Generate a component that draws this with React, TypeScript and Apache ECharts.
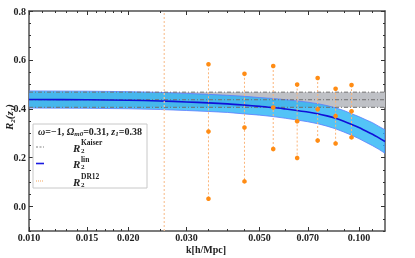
import React, { useEffect, useRef } from 'react';
import * as echarts from 'echarts';

// ---- data ----
const kGrid = [0.010, 0.015, 0.020, 0.025, 0.030, 0.035, 0.040, 0.045, 0.050, 0.055, 0.060, 0.065, 0.070, 0.075, 0.080, 0.085, 0.090, 0.095, 0.100, 0.105, 0.110, 0.115, 0.120];
const linCenter = [0.438, 0.437, 0.435, 0.432, 0.428, 0.424, 0.420, 0.415, 0.410, 0.405, 0.399, 0.393, 0.387, 0.380, 0.371, 0.361, 0.349, 0.336, 0.323, 0.309, 0.296, 0.281, 0.266];
const linUpper = [0.473, 0.472, 0.470, 0.467, 0.463, 0.459, 0.455, 0.451, 0.446, 0.442, 0.437, 0.432, 0.427, 0.421, 0.413, 0.404, 0.393, 0.380, 0.368, 0.355, 0.343, 0.328, 0.314];
const linLower = [0.403, 0.402, 0.400, 0.397, 0.393, 0.389, 0.385, 0.379, 0.374, 0.368, 0.361, 0.354, 0.347, 0.339, 0.329, 0.318, 0.305, 0.292, 0.278, 0.263, 0.249, 0.234, 0.218];

const kaiserK = [0.010, 0.120];
const kaiserCenter = [0.437, 0.437];
const kaiserUpper = [0.468, 0.468];
const kaiserLower = [0.406, 0.406];

const dr12K = [0.035, 0.045, 0.055, 0.065, 0.075, 0.085, 0.095];
const dr12R = [0.307, 0.323, 0.405, 0.349, 0.398, 0.370, 0.390];
const dr12Err = [0.275, 0.220, 0.170, 0.150, 0.128, 0.112, 0.107];

const kVertical = 0.0257;

const xLabelTicks = [0.010, 0.015, 0.020, 0.030, 0.050, 0.070, 0.100];
const xMinorTicks = [0.011, 0.012, 0.013, 0.014, 0.016, 0.017, 0.018, 0.019, 0.025, 0.035, 0.040, 0.045, 0.060, 0.080, 0.090, 0.110];
const yLabelTicks = [0.0, 0.2, 0.4, 0.6, 0.8];
const yMinorTicks = [-0.1, -0.05, 0.05, 0.1, 0.15, 0.25, 0.3, 0.35, 0.45, 0.5, 0.55, 0.65, 0.7, 0.75];

const K_MIN = 0.01;
const K_MAX = 0.12;
const Y_MIN = -0.1;
const Y_MAX = 0.8;

const L = (k: number) => Math.log10(k);
const FONT = "'Liberation Serif', 'DejaVu Serif', serif";

export default function App() {
  const ref = useRef<HTMLDivElement>(null);

  useEffect(() => {
    document.body.style.margin = '0';
    if (!ref.current) return;
    const chart = echarts.init(ref.current, undefined, { renderer: 'svg' });

    const axisColor = '#505050';
    const xBase = (pos: 'top' | 'bottom', ticks: number[], len: number, withLine: boolean, labels: boolean) => ({
      type: 'value',
      position: pos,
      min: L(K_MIN),
      max: L(K_MAX),
      axisLine: { show: withLine, onZero: false, lineStyle: { color: axisColor, width: 1.5 } },
      axisTick: { show: true, inside: true, length: len, customValues: ticks.map(L), lineStyle: { color: '#333', width: 1 } },
      axisLabel: labels
        ? {
            show: true,
            customValues: xLabelTicks.map(L),
            formatter: (v: number) => Math.pow(10, v).toFixed(3),
            fontFamily: FONT,
            fontWeight: 'bold',
            fontSize: 10,
            color: '#222',
            margin: 1,
          }
        : { show: false },
      splitLine: { show: false },
    });
    const yBase = (pos: 'left' | 'right', ticks: number[], len: number, withLine: boolean, labels: boolean) => ({
      type: 'value',
      position: pos,
      min: Y_MIN,
      max: Y_MAX,
      axisLine: { show: withLine, onZero: false, lineStyle: { color: axisColor, width: 1.5 } },
      axisTick: { show: true, inside: true, length: len, customValues: ticks, lineStyle: { color: '#333', width: 1 } },
      axisLabel: labels
        ? {
            show: true,
            customValues: yLabelTicks,
            formatter: (v: number) => v.toFixed(1),
            fontFamily: FONT,
            fontWeight: 'bold',
            fontSize: 10,
            color: '#222',
            margin: 3,
          }
        : { show: false },
      splitLine: { show: false },
    });

    const kaiserDash = [4, 2, 1, 2];

    const option: any = {
      animation: false,
      grid: { left: 29, right: 30, top: 11, bottom: 27, containLabel: false, outerBoundsMode: 'none' },
      xAxis: [
        xBase('bottom', xLabelTicks, 4, true, true),
        xBase('top', xLabelTicks, 4, true, false),
        xBase('bottom', xMinorTicks, 2, false, false),
        xBase('top', xMinorTicks, 2, false, false),
      ],
      yAxis: [
        yBase('left', yLabelTicks, 4, true, true),
        yBase('right', yLabelTicks, 4, true, false),
        yBase('left', yMinorTicks, 2, false, false),
        yBase('right', yMinorTicks, 2, false, false),
      ],
      series: [
        {
          type: 'custom',
          name: 'kaiserBand',
          xAxisIndex: 0,
          yAxisIndex: 0,
          clip: true,
          z: 1,
          data: [[L(K_MIN), 0]],
          renderItem: (_p: any, api: any) => {
            const pts: number[][] = [];
            kaiserK.forEach((k, i) => pts.push(api.coord([L(k), kaiserUpper[i]])));
            for (let i = kaiserK.length - 1; i >= 0; i--) pts.push(api.coord([L(kaiserK[i]), kaiserLower[i]]));
            return { type: 'polygon', shape: { points: pts }, style: { fill: '#bfc1c6' } };
          },
        },
        {
          type: 'custom',
          name: 'linBand',
          xAxisIndex: 0,
          yAxisIndex: 0,
          clip: true,
          z: 2,
          data: [[L(K_MIN), 0]],
          renderItem: (_p: any, api: any) => {
            const pts: number[][] = [];
            kGrid.forEach((k, i) => pts.push(api.coord([L(k), linUpper[i]])));
            for (let i = kGrid.length - 1; i >= 0; i--) pts.push(api.coord([L(kGrid[i]), linLower[i]]));
            return {
              type: 'polygon',
              shape: { points: pts, smooth: 0 },
              style: { fill: 'rgba(40,180,245,0.8)', stroke: '#5a7cff', lineWidth: 0.8 },
            };
          },
        },
        ...[kaiserUpper, kaiserCenter, kaiserLower].map((arr) => ({
          type: 'line',
          xAxisIndex: 0,
          yAxisIndex: 0,
          z: 3,
          symbol: 'none',
          silent: true,
          data: kaiserK.map((k, i) => [L(k), arr[i]]),
          lineStyle: { color: '#707070', width: 1, type: kaiserDash },
        })),
        {
          type: 'line',
          name: 'lin',
          xAxisIndex: 0,
          yAxisIndex: 0,
          z: 4,
          symbol: 'none',
          smooth: 0.3,
          data: kGrid.map((k, i) => [L(k), linCenter[i]]),
          lineStyle: { color: '#1010d8', width: 1.6 },
        },
        {
          type: 'line',
          name: 'kline',
          xAxisIndex: 0,
          yAxisIndex: 0,
          z: 5,
          symbol: 'none',
          data: [[L(kVertical), Y_MIN], [L(kVertical), Y_MAX]],
          lineStyle: { color: '#f8c59a', width: 1.2, type: [2, 2] },
        },
        {
          type: 'custom',
          name: 'DR12',
          xAxisIndex: 0,
          yAxisIndex: 0,
          z: 6,
          data: dr12K.map((k, i) => [L(k), dr12R[i], dr12Err[i]]),
          renderItem: (_p: any, api: any) => {
            const x = api.value(0);
            const r = api.value(1);
            const e = api.value(2);
            const top = api.coord([x, r + e]);
            const mid = api.coord([x, r]);
            const bot = api.coord([x, r - e]);
            const dot = (p: number[]) => ({ type: 'circle', shape: { cx: p[0], cy: p[1], r: 2.3 }, style: { fill: '#ff8c14' } });
            return {
              type: 'group',
              children: [
                { type: 'line', shape: { x1: top[0], y1: top[1], x2: bot[0], y2: bot[1] }, style: { stroke: '#fbb57a', lineWidth: 1, lineDash: [2, 2] } },
                dot(top),
                dot(mid),
                dot(bot),
              ],
            };
          },
        },
      ],
      graphic: [
        {
          type: 'text',
          z: 101,
          x: 9,
          y: 117,
          rotation: Math.PI / 2,
          style: {
            text: '{i|R}{s|2}{i|(z}{s|1}{i|)}',
            align: 'center',
            verticalAlign: 'middle',
            rich: {
              i: { fontFamily: FONT, fontStyle: 'italic', fontWeight: 'bold', fontSize: 11, fill: '#222', lineHeight: 14 },
              s: { fontFamily: FONT, fontStyle: 'italic', fontWeight: 'bold', fontSize: 7, fill: '#222', lineHeight: 8, verticalAlign: 'bottom' },
            },
          },
        },
        {
          type: 'text',
          z: 101,
          x: 206,
          y: 249,
          style: { text: 'k[h/Mpc]', fontFamily: FONT, fontWeight: 'bold', fontSize: 10, fill: '#222', align: 'center', verticalAlign: 'middle' },
        },
        { type: 'rect', z: 100, shape: { x: 33, y: 124, width: 114, height: 64 }, style: { fill: '#ffffff', stroke: '#c8c8c8', lineWidth: 1 } },
        {
          type: 'text',
          z: 101,
          x: 90,
          y: 131,
          style: {
            text: '{a|ω}{b|=−1, }{a|Ω}{s|m0}{b|=0.31, }{a|z}{s|1}{b|=0.38}',
            align: 'center',
            verticalAlign: 'middle',
            rich: {
              a: { fontFamily: FONT, fontStyle: 'italic', fontWeight: 'bold', fontSize: 10, fill: '#222', lineHeight: 13 },
              b: { fontFamily: FONT, fontWeight: 'bold', fontSize: 10, fill: '#222', lineHeight: 13 },
              s: { fontFamily: FONT, fontStyle: 'italic', fontWeight: 'bold', fontSize: 7, fill: '#222', lineHeight: 8, verticalAlign: 'bottom' },
            },
          },
        },
        { type: 'line', z: 101, shape: { x1: 36, y1: 147, x2: 44, y2: 147 }, style: { stroke: '#808080', lineWidth: 1, lineDash: [2, 1.5] } },
        { type: 'line', z: 101, shape: { x1: 36, y1: 163.5, x2: 44, y2: 163.5 }, style: { stroke: '#1a1ae0', lineWidth: 1.6 } },
        { type: 'line', z: 101, shape: { x1: 36, y1: 181, x2: 44, y2: 181 }, style: { stroke: '#f5a860', lineWidth: 1.2, lineDash: [1, 1] } },
        ...[
          ['Kaiser', 147],
          ['lin', 163.5],
          ['DR12', 181],
        ].flatMap(([sup, y]) => [
          { type: 'text', z: 101, x: 73, y: (y as number) + 0.5, style: { text: 'R', fontFamily: FONT, fontStyle: 'italic', fontWeight: 'bold', fontSize: 11, fill: '#222', verticalAlign: 'middle' } },
          { type: 'text', z: 101, x: 81, y: (y as number) + 3.5, style: { text: '2', fontFamily: FONT, fontWeight: 'bold', fontSize: 7, fill: '#222', verticalAlign: 'middle' } },
          { type: 'text', z: 101, x: 81, y: (y as number) - 4.5, style: { text: sup as string, fontFamily: FONT, fontWeight: 'bold', fontSize: 7.5, fill: '#222', verticalAlign: 'middle' } },
        ]),
      ],
    };

    chart.setOption(option);
    return () => chart.dispose();
  }, []);

  return <div ref={ref} style={{ position: 'fixed', left: 0, top: 0, width: 415, height: 258 }} />;
}
